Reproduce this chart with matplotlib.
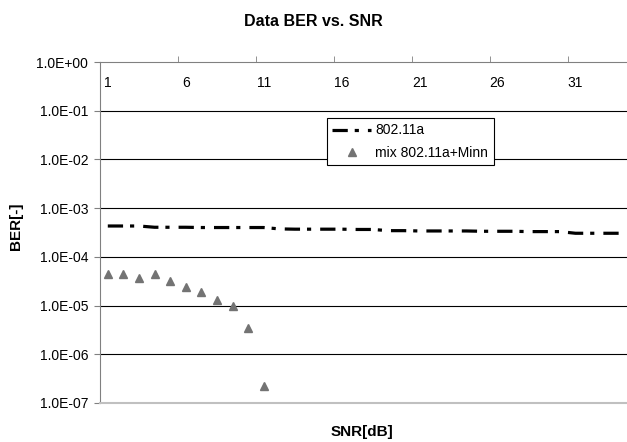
import matplotlib.pyplot as plt
from matplotlib.ticker import FixedLocator, FuncFormatter

snr = list(range(1, 35))
ber_80211a = [4.3e-4, 4.3e-4, 4.3e-4, 4.05e-4, 4.05e-4, 4.05e-4, 4.0e-4, 4.0e-4, 4.0e-4,
              4.0e-4, 4.0e-4, 3.75e-4, 3.7e-4, 3.7e-4, 3.7e-4, 3.7e-4, 3.65e-4, 3.65e-4,
              3.45e-4, 3.45e-4, 3.4e-4, 3.4e-4, 3.4e-4, 3.4e-4, 3.35e-4, 3.35e-4, 3.35e-4,
              3.3e-4, 3.3e-4, 3.3e-4, 3.05e-4, 3.05e-4, 3.05e-4, 3.05e-4]
snr_mix = list(range(1, 12))
ber_mix = [4.5e-5, 4.5e-5, 3.75e-5, 4.5e-5, 3.15e-5, 2.45e-5, 1.93e-5, 1.32e-5, 9.6e-6, 3.5e-6, 2.2e-7]
x_labels = [1, 6, 11, 16, 21, 26, 31]
y_ticks = [1e0, 1e-1, 1e-2, 1e-3, 1e-4, 1e-5, 1e-6, 1e-7]

plt.rcParams['font.family'] = ['Liberation Sans', 'DejaVu Sans']
plt.rcParams['lines.scale_dashes'] = False

fig = plt.figure(figsize=(6.27, 4.42), dpi=100)
ax = fig.add_axes([100 / 627, 1 - 403 / 442, 530 / 627, 341 / 442])

ax.set_yscale('log')
ax.set_ylim(1e-7, 1e0)
ax.set_xlim(0.5, 34.5)

# grid lines at the decades
for v in y_ticks[1:-1]:
    ax.axhline(v, color='black', lw=0.8, zorder=1)

line, = ax.plot(snr, ber_80211a, color='black', lw=2.3, zorder=3,
                dash_capstyle='butt', label='802.11a')
line.set_dashes((11, 5, 3, 6.5))
ax.plot(snr_mix, ber_mix, linestyle='none', marker='^', markersize=6,
        color='#737373', zorder=4, label='mix 802.11a+Minn')

ax.yaxis.set_major_locator(FixedLocator(y_ticks))
ax.yaxis.set_minor_locator(FixedLocator([]))
ax.yaxis.set_major_formatter(FuncFormatter(lambda v, p: '%.1E' % v))
ax.tick_params(axis='y', direction='out', length=4, color='#808080',
               labelsize=10, pad=4.5)

ax.set_xticks(x_labels)
ax.set_xticks([5.5, 10.5, 15.5, 20.5, 25.5, 30.5], minor=True)
ax.tick_params(axis='x', which='major', top=True, bottom=False, labeltop=True,
               labelbottom=False, length=0, labelsize=10, pad=-20)
ax.tick_params(axis='x', which='minor', top=True, bottom=False, direction='out',
               length=4, color='#808080')

ax.spines['top'].set_color('#808080')
ax.spines['left'].set_color('#808080')
ax.spines['bottom'].set_color('#c0c0c0')
ax.spines['bottom'].set_linewidth(1.5)
ax.spines['right'].set_visible(False)

leg = ax.legend(loc='upper left', bbox_to_anchor=(0.428, 0.836), fontsize=10,
                frameon=True, fancybox=False, edgecolor='black', framealpha=1,
                handlelength=2.8, borderpad=0.4, labelspacing=0.6,
                handletextpad=0.3, borderaxespad=0)
leg.get_frame().set_linewidth(0.8)

fig.text(313 / 627, 1 - 22 / 442, 'Data BER vs. SNR', ha='center', va='center',
         fontsize=11.5, fontweight='bold')
fig.text(16 / 627, 1 - 226 / 442, 'BER[-]', ha='center', va='center',
         rotation=90, fontsize=11, fontweight='bold')
fig.text(362 / 627, 1 - 432 / 442, 'SNR[dB]', ha='center', va='center',
         fontsize=11, fontweight='bold')

fig.savefig('out.png', dpi=100)
